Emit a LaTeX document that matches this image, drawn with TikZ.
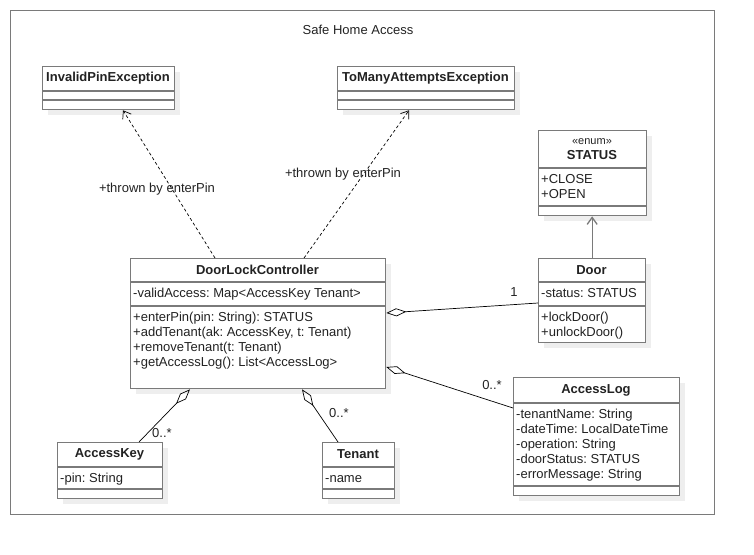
\documentclass[tikz,border=0pt]{standalone}
\usepackage{fontspec}
\setmainfont{Liberation Sans}
\usetikzlibrary{arrows.meta,shadows}
\frenchspacing
\definecolor{boxgray}{HTML}{7A7A7A}
\definecolor{shadowgray}{HTML}{EEEEEE}
\definecolor{textgray}{HTML}{222222}
\tikzstyle{classbox} = [draw=boxgray, fill=white, line width=1.3pt, rectangle, inner sep=0pt, anchor=north west, drop shadow={shadow xshift=5pt, shadow yshift=-5pt, fill=shadowgray, opacity=1}]
\tikzstyle{compline} = [draw=boxgray, line width=1.3pt]
\tikzstyle{classname} = [font=\fontsize{13}{15}\selectfont\bfseries, text=textgray, inner sep=0pt]
\tikzstyle{members} = [font=\fontsize{13}{15}\selectfont, text=textgray, inner sep=0pt, anchor=north west, align=left]
\tikzstyle{multlabel} = [font=\fontsize{13}{15}\selectfont, text=textgray, inner sep=0pt]
\tikzstyle{dependency} = [black, line width=0.7pt, dash pattern=on 3pt off 2.5pt, -{Straight Barb[length=7pt,width=10pt]}]
\tikzstyle{aggregation} = [black, line width=0.7pt, {Diamond[open,length=20pt,width=8pt]}-]

\begin{document}
\begin{tikzpicture}[x=1pt, y=-1pt]
\useasboundingbox (0,0) rectangle (754,554);
% package frame
\node[draw=boxgray, line width=1.3pt, rectangle, inner sep=0pt, anchor=north west, minimum width=704pt, minimum height=504pt] (frame) at (10,10) {};
\node[multlabel] (title) at (358,30) {Safe Home Access};

% exceptions
\node[classbox, minimum width=132pt, minimum height=43pt] (ip) at (42,66) {};
\draw[compline] ([yshift=-25pt]ip.north west) -- ([yshift=-25pt]ip.north east);
\draw[compline] ([yshift=-34pt]ip.north west) -- ([yshift=-34pt]ip.north east);
\node[classname] (ipname) at (108,78.5) {InvalidPinException};

\node[classbox, minimum width=177pt, minimum height=43pt] (tm) at (337,66) {};
\draw[compline] ([yshift=-25pt]tm.north west) -- ([yshift=-25pt]tm.north east);
\draw[compline] ([yshift=-34pt]tm.north west) -- ([yshift=-34pt]tm.north east);
\node[classname] (tmname) at (425.5,78.5) {ToManyAttemptsException};

% enum STATUS
\node[classbox, minimum width=108pt, minimum height=85pt] (st) at (538,130) {};
\draw[compline] ([yshift=-38pt]st.north west) -- ([yshift=-38pt]st.north east);
\draw[compline] ([yshift=-76pt]st.north west) -- ([yshift=-76pt]st.north east);
\node[multlabel, font=\fontsize{11}{13}\selectfont] (stereo) at (592,142) {«enum»};
\node[classname] (stname) at (592,155.5) {STATUS};
\node[members] (stvals) at (541,172.5) {\strut+CLOSE\\+OPEN};

% controller
\node[classbox, minimum width=255pt, minimum height=130pt] (dlc) at (130,258) {};
\draw[compline] ([yshift=-24pt]dlc.north west) -- ([yshift=-24pt]dlc.north east);
\draw[compline] ([yshift=-48pt]dlc.north west) -- ([yshift=-48pt]dlc.north east);
\node[classname] (dlcname) at (257.5,270) {DoorLockController};
\node[members] (dlcattr) at (133,286.5) {\strut-validAccess: Map<AccessKey Tenant>};
\node[members] (dlcops) at (133,310.5) {\strut+enterPin(pin: String): STATUS\\+addTenant(ak: AccessKey, t: Tenant)\\+removeTenant(t: Tenant)\\+getAccessLog(): List<AccessLog>};

% door
\node[classbox, minimum width=107pt, minimum height=84pt] (door) at (538,258) {};
\draw[compline] ([yshift=-24pt]door.north west) -- ([yshift=-24pt]door.north east);
\draw[compline] ([yshift=-48pt]door.north west) -- ([yshift=-48pt]door.north east);
\node[classname] (doorname) at (591.5,270) {Door};
\node[members] (doorattr) at (541,286.5) {\strut-status: STATUS};
\node[members] (doorops) at (541,310.5) {\strut+lockDoor()\\+unlockDoor()};

% access log
\node[classbox, minimum width=166pt, minimum height=118pt] (al) at (513,377) {};
\draw[compline] ([yshift=-26pt]al.north west) -- ([yshift=-26pt]al.north east);
\draw[compline] ([yshift=-109pt]al.north west) -- ([yshift=-109pt]al.north east);
\node[classname] (alname) at (596,390) {AccessLog};
\node[members] (alattr) at (516,407.5) {\strut-tenantName: String\\-dateTime: LocalDateTime\\-operation: String\\-doorStatus: STATUS\\-errorMessage: String};

% access key
\node[classbox, minimum width=105pt, minimum height=56pt] (ak) at (57,442) {};
\draw[compline] ([yshift=-25pt]ak.north west) -- ([yshift=-25pt]ak.north east);
\draw[compline] ([yshift=-47pt]ak.north west) -- ([yshift=-47pt]ak.north east);
\node[classname] (akname) at (109.5,454.5) {AccessKey};
\node[members] (akattr) at (60,471.5) {\strut-pin: String};

% tenant
\node[classbox, minimum width=72pt, minimum height=56pt] (tn) at (322,442) {};
\draw[compline] ([yshift=-25pt]tn.north west) -- ([yshift=-25pt]tn.north east);
\draw[compline] ([yshift=-47pt]tn.north west) -- ([yshift=-47pt]tn.north east);
\node[classname] (tnname) at (358,454.5) {Tenant};
\node[members] (tnattr) at (325,471.5) {\strut-name};

% dependencies
\draw[dependency] ([xshift=85pt]dlc.north west) -- ([xshift=81pt]ip.south west);
\draw[dependency] ([xshift=174pt]dlc.north west) -- ([xshift=72pt]tm.south west);
\node[multlabel] (iplabel) at (157,189) {+thrown by enterPin};
\node[multlabel] (tmlabel) at (343,174) {+thrown by enterPin};
\draw[draw=boxgray, line width=1.3pt, -{Straight Barb[length=7pt,width=10pt]}] (door.north) -- (door.north |- st.south);

% aggregations
\draw[aggregation] ([yshift=-55pt]dlc.north east) -- ([yshift=-45pt]door.north west);
\draw[aggregation] ([yshift=-109pt]dlc.north east) -- ([yshift=-31pt]al.north west);
\draw[aggregation] ([xshift=60pt]dlc.south west) -- ([xshift=82pt]ak.north west);
\draw[aggregation] ([xshift=172pt]dlc.south west) -- ([xshift=16pt]tn.north west);
\node[multlabel] (doormult) at (514,292) {1};
\node[multlabel] (almult) at (492,385) {0..*};
\node[multlabel] (akmult) at (162,433) {0..*};
\node[multlabel] (tnmult) at (339,413) {0..*};
\end{tikzpicture}
\end{document}
